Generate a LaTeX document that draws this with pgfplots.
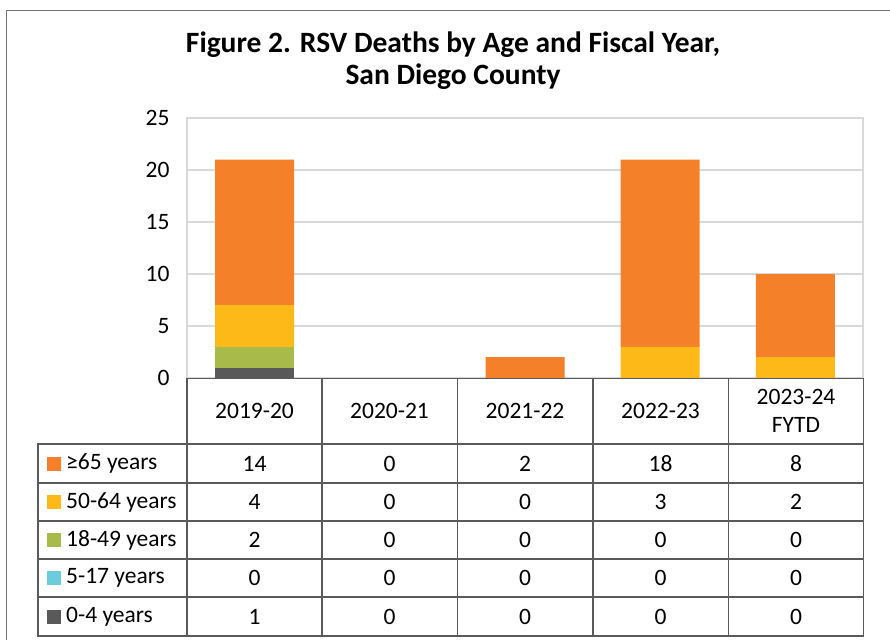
\documentclass[border=0pt]{standalone}
\usepackage{pgfplots}
\pgfplotsset{compat=1.18}
\usepackage{fontspec}
\setmainfont{Carlito}
\definecolor{cO}{HTML}{F4812A}
\definecolor{cY}{HTML}{FCB918}
\definecolor{cG}{HTML}{A8BA4A}
\definecolor{cC}{HTML}{6CCCDC}
\definecolor{cK}{HTML}{595959}
\definecolor{gridc}{HTML}{D9D9D9}
\definecolor{tabc}{HTML}{5A5A5A}
\begin{document}
\begin{tikzpicture}[x=1pt,y=1pt]
\useasboundingbox (0,0) rectangle (890,-639);
% outer frame
\draw[color=gray!90!black, line width=1.6pt] (6.5,-700) -- (6.5,-10.5) -- (950,-10.5);
% title
\node[font=\bfseries\fontsize{29.5}{32}\selectfont, align=center] at (453,-61) {Figure 2. RSV Deaths by Age and Fiscal Year,\\San Diego County};
\begin{axis}[
  at={(187pt,-378pt)}, anchor=south west,
  width=676pt, height=260pt, scale only axis,
  xmin=-0.5, xmax=4.5, ymin=0, ymax=25,
  ybar stacked, bar width=79pt,
  xtick=\empty,
  ytick={0,5,...,25},
  ymajorgrids, grid style={gridc, line width=1.2pt},
  axis line style={gridc, line width=1.2pt},
  major tick length=0pt,
  tick label style={font=\fontsize{23.5}{26}\selectfont},
  /pgf/number format/assume math mode=true,
  yticklabel style={xshift=-14pt},
  clip=false,
]
\addplot[fill=cK, draw=none] coordinates {(0,1) (1,0) (2,0) (3,0) (4,0)};
\addplot[fill=cC, draw=none] coordinates {(0,0) (1,0) (2,0) (3,0) (4,0)};
\addplot[fill=cG, draw=none] coordinates {(0,2) (1,0) (2,0) (3,0) (4,0)};
\addplot[fill=cY, draw=none] coordinates {(0,4) (1,0) (2,0) (3,3) (4,2)};
\addplot[fill=cO, draw=none] coordinates {(0,14) (1,0) (2,2) (3,18) (4,8)};
\end{axis}
% data table
\begin{scope}[line width=1.5pt]
\fill[white] (187,-378.5) rectangle (863.5,-444);
\draw[tabc] (187,-378.5) rectangle (863.5,-444);
\draw[tabc] (38,-444) rectangle (863.5,-636);
\foreach \y in {-483,-521,-559,-597} \draw[tabc] (38,\y) -- (863.5,\y);
\foreach \x in {187,322,457.5,593,728.5} \draw[tabc] (\x,-378.5) -- (\x,-636);
\end{scope}
\begin{scope}[every node/.style={font=\fontsize{23.5}{28}\selectfont}]
\node at (254.5,-411) {2019-20};
\node at (389.5,-411) {2020-21};
\node at (525,-411) {2021-22};
\node at (660.5,-411) {2022-23};
\node[align=center] at (796,-411) {2023-24\\FYTD};
% legend column
\foreach \c/\t/\y in {cO/{≥65 years}/-463.5, cY/{50-64 years}/-502, cG/{18-49 years}/-540, cC/{5-17 years}/-578, cK/{0-4 years}/-616.5}{
  \fill[\c] (47,\y-7) rectangle (61,\y+7);
  \node[anchor=west, inner sep=0pt] at (66,\y) {\t};
}
% values
\foreach \y/\a/\b/\c/\d/\e in {-463.5/14/0/2/18/8, -502/4/0/0/3/2, -540/2/0/0/0/0, -578/0/0/0/0/0, -616.5/1/0/0/0/0}{
  \node at (254.5,\y) {\a};
  \node at (389.5,\y) {\b};
  \node at (525,\y) {\c};
  \node at (660.5,\y) {\d};
  \node at (796,\y) {\e};
}
\end{scope}
\end{tikzpicture}
\end{document}
